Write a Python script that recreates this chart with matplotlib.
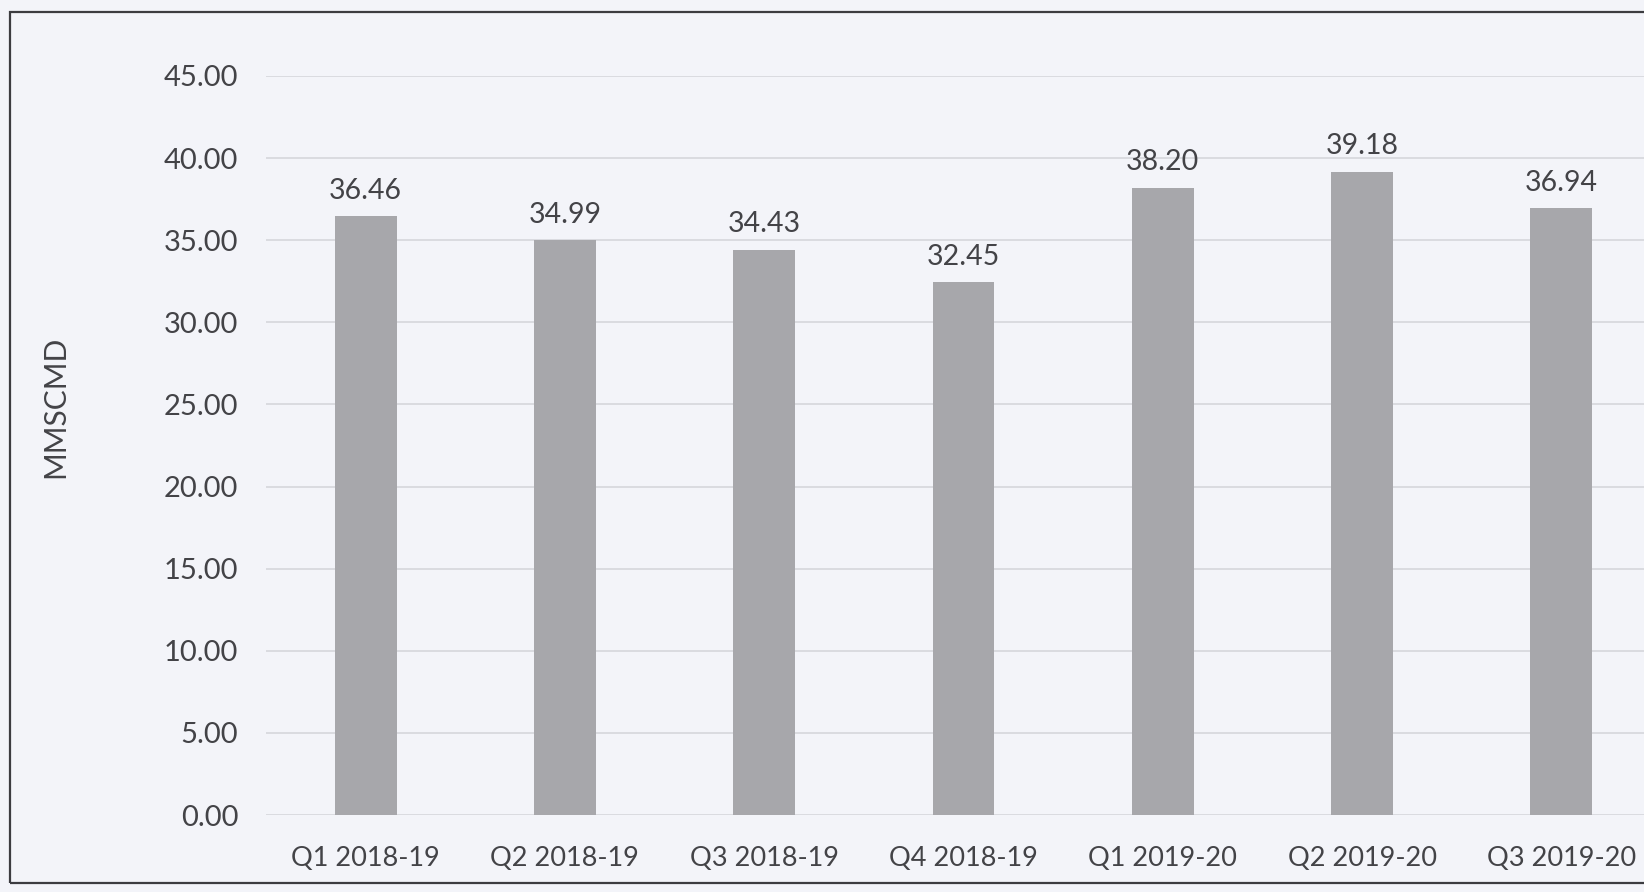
import matplotlib
matplotlib.use("Agg")
import matplotlib.pyplot as plt
from matplotlib.patches import Rectangle

categories = ["Q1 2018-19", "Q2 2018-19", "Q3 2018-19", "Q4 2018-19",
              "Q1 2019-20", "Q2 2019-20", "Q3 2019-20"]
values = [36.46, 34.99, 34.43, 32.45, 38.20, 39.18, 36.94]
y_ticks = [0, 5, 10, 15, 20, 25, 30, 35, 40, 45]
y_label = "MMSCMD"

plt.rcParams['font.family'] = ['Lato', 'DejaVu Sans']
W, H = 1644, 892
bg = '#f3f4f9'
text_c = '#434347'
bar_c = '#a7a7ab'
grid_c = '#d8d9de'

fig = plt.figure(figsize=(W / 100, H / 100), dpi=100, facecolor=bg)
left_px, right_px = 266, 1661
top_px, bottom_px = 76, 815
ax = fig.add_axes([left_px / W, 1 - bottom_px / H,
                   (right_px - left_px) / W, (bottom_px - top_px) / H])
ax.set_facecolor(bg)

x = list(range(len(categories)))
ax.bar(x, values, width=0.31, color=bar_c, zorder=2)
ax.set_xlim(-0.5, len(categories) - 0.5)
ax.set_ylim(0, 45)
ax.set_yticks(y_ticks)
ax.set_yticklabels([f"{v:.2f}" for v in y_ticks])
ax.set_xticks(x)
ax.set_xticklabels(categories)
ax.yaxis.grid(True, color=grid_c, linewidth=1.3, zorder=0)
ax.set_axisbelow(True)
for s in ax.spines.values():
    s.set_visible(False)
ax.tick_params(axis='both', length=0, colors=text_c)
ax.tick_params(axis='y', pad=20, labelsize=21)
ax.tick_params(axis='x', pad=22, labelsize=19.5)

for xi, v in zip(x, values):
    ax.annotate(f"{v:.2f}", (xi, v), xytext=(0, 9), textcoords='offset points',
                ha='center', va='bottom', fontsize=20.5, color=text_c)

fig.text(55 / W, 1 - 407 / H, y_label, rotation=90, ha='center', va='center',
         fontsize=21.5, color=text_c)

fig.patches.append(Rectangle((10 / W, 1 - 883 / H), (W + 20) / W, (883 - 12) / H,
                             transform=fig.transFigure, fill=False,
                             edgecolor='#3c3c40', linewidth=1.6))

fig.savefig("out.png", dpi=100, facecolor=bg)
